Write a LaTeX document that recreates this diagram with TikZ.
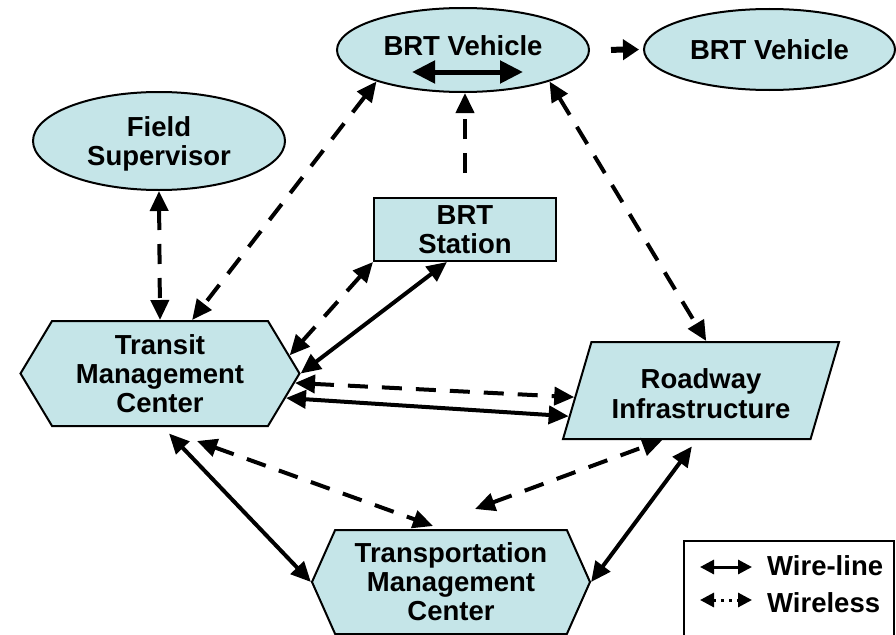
\documentclass[tikz,border=0pt]{standalone}
\usepackage{fontspec}
\setmainfont{Liberation Sans}
\usetikzlibrary{shapes,arrows.meta}
\definecolor{brtfill}{RGB}{197,229,232}

\begin{document}
\begin{tikzpicture}[x=1pt,y=-1pt,
      every node/.style={font=\fontsize{27.5}{29}\selectfont\bfseries,align=center,inner sep=0pt},
      box/.style={draw,line width=2pt,fill=brtfill},
      oval/.style={box,ellipse},
      hexa/.style={box,signal,signal to=west and east},
      slanted/.style={box,trapezium,trapezium left angle=67.6,trapezium right angle=112.4,trapezium stretches=true},
      wire/.style={line width=4pt,{Triangle[length=20pt,width=18pt]}-{Triangle[length=20pt,width=18pt]}},
      wireless/.style={wire,dash pattern=on 20pt off 14pt},
      key/.style={line width=3pt,{Triangle[length=14pt,width=14pt]}-{Triangle[length=14pt,width=14pt]}}]
    \useasboundingbox (0,0) rectangle (896,634);
    \node[oval,minimum width=252pt,minimum height=84pt,text depth=9pt] (vehicle) at (463,50) {BRT Vehicle};
    \node[oval,minimum width=251pt,minimum height=81pt] (vehicleb) at (769.5,49.5) {BRT Vehicle};
    \node[oval,minimum width=252pt,minimum height=98pt,text depth=0pt] (field) at (159,141) {Field\\Supervisor};
    \node[box,minimum width=182pt,minimum height=63pt] (station) at (465,229.5) {BRT\\Station};
    \node[hexa,signal pointer angle=118,minimum width=279pt,minimum height=105pt] (transit) at (160,373.5) {Transit\\Management\\Center};
    \node[slanted,minimum width=276pt,minimum height=97pt,text height=56pt] (roadway) at (701,390.5) {Roadway\\[1pt]Infrastructure};
    \node[hexa,signal pointer angle=132,minimum width=278pt,minimum height=104pt] (traffic) at (451,582) {Transportation\\Management\\Center};

    \coordinate (seatl) at (412,72);
    \coordinate (seatr) at (523,72);
    \draw[line width=5pt,{Triangle[length=23pt,width=22pt]}-{Triangle[length=23pt,width=22pt]}] (seatl) -- (seatr);
    \draw[line width=6pt,-{Triangle[length=16pt,width=20pt]},shorten <=21pt,shorten >=4pt] (vehicle.east) -- (vehicleb.west);

    \draw[wireless] (vehicle.200) -- (transit.59);
    \draw[wireless] (field.south) -- (transit.north);
    \draw[wireless,-{Triangle[length=20pt,width=18pt]},shorten <=24pt] (station.north) -- (station.north |- vehicle.south);
    \draw[wireless] (vehicle.340) -- (roadway.84);
    \draw[wireless] (station.south west) -- (transit.8);
    \draw[wire] (station.241) -- (transit.east);
    \draw[wireless] (transit.356) -- (roadway.183);
    \draw[wire] (transit.349) -- (roadway.191);
    \draw[wire,shorten <=9pt] (transit.273) -- (traffic.west);
    \draw[wireless] ([xshift=37pt,yshift=-14pt]transit.south) -- ([xshift=-18pt,yshift=3pt]traffic.north);
    \draw[wireless] ([xshift=24pt,yshift=20pt]traffic.north) -- (roadway.232);
    \draw[wire,shorten <=8pt] (roadway.265) -- (traffic.east);

    \node[draw,line width=2pt,minimum width=210pt,minimum height=100pt,anchor=north west] (legend) at (683,540) {};
    \node[anchor=base west] (wirelabel) at (767,575) {Wire-line};
    \node[anchor=base west] (wirelesslabel) at (767,612) {Wireless};
    \coordinate (wirea) at (700,567);
    \coordinate (wireb) at (752,567);
    \coordinate (wirelessa) at (700,600);
    \coordinate (wirelessb) at (752,600);
    \draw[key] (wirea) -- (wireb);
    \draw[key,dash pattern=on 3pt off 5pt] (wirelessa) -- (wirelessb);
\end{tikzpicture}
\end{document}
